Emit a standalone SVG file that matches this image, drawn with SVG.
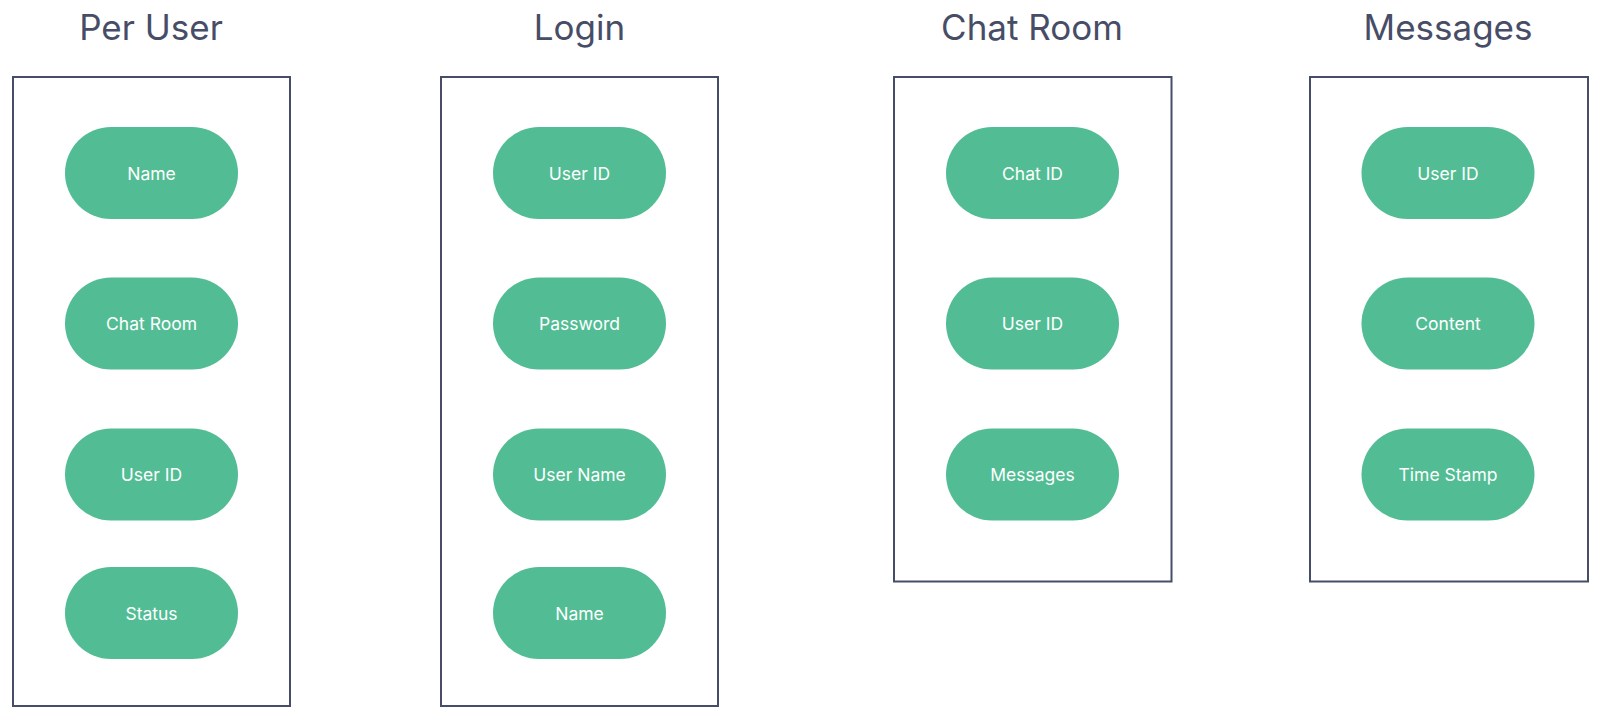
<svg xmlns="http://www.w3.org/2000/svg" width="1600" height="708" viewBox="0 0 1600 708">
<style>
.title{font-family:Inter,"Noto Sans","Liberation Sans",sans-serif;font-size:35px;fill:#474d66;text-anchor:middle}
.box{fill:#ffffff;stroke:#474d66;stroke-width:2}
.pill{fill:#52bd94}
.lbl{font-family:Inter,"Noto Sans","Liberation Sans",sans-serif;font-size:17.5px;fill:#ffffff;text-anchor:middle;dominant-baseline:central}
</style>
<rect width="1600" height="708" fill="#ffffff"/>
<g id="per-user">
<text class="title" x="151" y="40">Per User</text>
<rect class="box" x="13" y="77" width="277" height="629"/>
<g id="pu-name"><rect class="pill" x="65" y="127" width="173" height="92" rx="46" ry="46"/><text class="lbl" x="151.5" y="173">Name</text></g>
<g id="pu-chatroom"><rect class="pill" x="65" y="277.5" width="173" height="92" rx="46" ry="46"/><text class="lbl" x="151.5" y="323.5">Chat Room</text></g>
<g id="pu-userid"><rect class="pill" x="65" y="428.5" width="173" height="92" rx="46" ry="46"/><text class="lbl" x="151.5" y="474.5">User ID</text></g>
<g id="pu-status"><rect class="pill" x="65" y="567" width="173" height="92" rx="46" ry="46"/><text class="lbl" x="151.5" y="613">Status</text></g>
</g>
<g id="login">
<text class="title" x="579.5" y="40">Login</text>
<rect class="box" x="441" y="77" width="277" height="629"/>
<g id="lg-userid"><rect class="pill" x="493" y="127" width="173" height="92" rx="46" ry="46"/><text class="lbl" x="579.5" y="173">User ID</text></g>
<g id="lg-password"><rect class="pill" x="493" y="277.5" width="173" height="92" rx="46" ry="46"/><text class="lbl" x="579.5" y="323.5">Password</text></g>
<g id="lg-username"><rect class="pill" x="493" y="428.5" width="173" height="92" rx="46" ry="46"/><text class="lbl" x="579.5" y="474.5">User Name</text></g>
<g id="lg-name"><rect class="pill" x="493" y="567" width="173" height="92" rx="46" ry="46"/><text class="lbl" x="579.5" y="613">Name</text></g>
</g>
<g id="chat-room">
<text class="title" x="1032" y="40">Chat Room</text>
<rect class="box" x="894" y="77" width="277.5" height="504.5"/>
<g id="cr-chatid"><rect class="pill" x="946" y="127" width="173" height="92" rx="46" ry="46"/><text class="lbl" x="1032.5" y="173">Chat ID</text></g>
<g id="cr-userid"><rect class="pill" x="946" y="277.5" width="173" height="92" rx="46" ry="46"/><text class="lbl" x="1032.5" y="323.5">User ID</text></g>
<g id="cr-messages"><rect class="pill" x="946" y="428.5" width="173" height="92" rx="46" ry="46"/><text class="lbl" x="1032.5" y="474.5">Messages</text></g>
</g>
<g id="messages">
<text class="title" x="1448" y="40">Messages</text>
<rect class="box" x="1310" y="77" width="278" height="504.5"/>
<g id="ms-userid"><rect class="pill" x="1361.5" y="127" width="173" height="92" rx="46" ry="46"/><text class="lbl" x="1448" y="173">User ID</text></g>
<g id="ms-content"><rect class="pill" x="1361.5" y="277.5" width="173" height="92" rx="46" ry="46"/><text class="lbl" x="1448" y="323.5">Content</text></g>
<g id="ms-timestamp"><rect class="pill" x="1361.5" y="428.5" width="173" height="92" rx="46" ry="46"/><text class="lbl" x="1448" y="474.5">Time Stamp</text></g>
</g>
<g id="connectors"/>
</svg>
